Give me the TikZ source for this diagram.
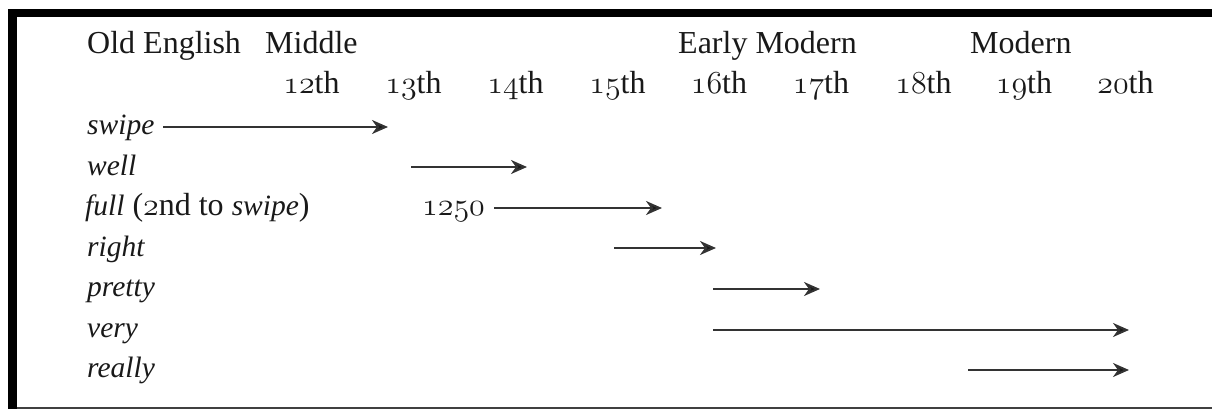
\RequirePackage{fix-cm}
\documentclass[tikz,border=0pt]{standalone}
\usepackage{fontspec}
\setmainfont{Liberation Serif}
\usetikzlibrary{arrows.meta}
\newcommand{\osn}[1]{{\usefont{OML}{cmm}{m}{it}#1}}
\newcommand{\itw}[1]{{\fontsize{29.5}{34}\selectfont\itshape #1}}
\tikzset{
  txt/.style={inner sep=0pt, font=\fontsize{32}{38}\selectfont, text=black!90},
  lbl/.style={txt, anchor=base west},
  cent/.style={txt, anchor=base},
  arr/.style={draw=black!80, line width=2pt, -{Stealth[length=16pt,width=14pt,inset=5pt,fill=black!90]}},
}
\begin{document}
\begin{tikzpicture}[x=1pt,y=-1pt]
\useasboundingbox (0,0) rectangle (1212,409);
% frame
\fill[black] (8,9) rectangle (1212,17);
\fill[black] (8,9) rectangle (17,409);
\fill[black!75] (17,406.6) rectangle (1212,408.6);
% period headings
\node[lbl] (oe) at (87,53.3) {Old English};
\node[lbl] (me) at (265,53.3) {Middle};
\node[lbl] (em) at (678,53.3) {Early Modern};
\node[lbl] (mo) at (970,53.3) {Modern};
% centuries
\node[cent] (c12) at (311.5,93.3) {\osn{12}th};
\node[cent] (c13) at (413.5,93.3) {\osn{13}th};
\node[cent] (c14) at (515.5,93.3) {\osn{14}th};
\node[cent] (c15) at (617.5,93.3) {\osn{15}th};
\node[cent] (c16) at (719,93.3) {\osn{16}th};
\node[cent] (c17) at (821,93.3) {\osn{17}th};
\node[cent] (c18) at (923.5,93.3) {\osn{18}th};
\node[cent] (c19) at (1024,93.3) {\osn{19}th};
\node[cent] (c20) at (1125.5,93.3) {\osn{20}th};
% words
\node[lbl] (swipe) at (87,134.5) {\itw{swipe}};
\node[lbl] (well) at (87,175) {\itw{well}};
\node[lbl] (full) at (85,215.5) {\itw{full} (\osn{2}nd to \itw{swipe})};
\node[lbl] (right) at (87,256) {\itw{right}};
\node[lbl] (pretty) at (87,296.5) {\itw{pretty}};
\node[lbl] (very) at (87,337) {\itw{very}};
\node[lbl] (really) at (87,377.5) {\itw{really}};
\node[lbl] (y1250) at (422,215.5) {\osn{1250}};
% arrow end points
\coordinate (swipeA) at (163,127);  \coordinate (swipeB) at (388,127);
\coordinate (wellA) at (411,167);   \coordinate (wellB) at (527,167);
\coordinate (fullA) at (494,208);   \coordinate (fullB) at (662,208);
\coordinate (rightA) at (614,248);  \coordinate (rightB) at (716,248);
\coordinate (prettyA) at (713,289); \coordinate (prettyB) at (820,289);
\coordinate (veryA) at (713,330);   \coordinate (veryB) at (1129,330);
\coordinate (reallyA) at (968,370); \coordinate (reallyB) at (1129,370);
\draw[arr] (swipeA) -- (swipeB);
\draw[arr] (wellA) -- (wellB);
\draw[arr] (fullA) -- (fullB);
\draw[arr] (rightA) -- (rightB);
\draw[arr] (prettyA) -- (prettyB);
\draw[arr] (veryA) -- (veryB);
\draw[arr] (reallyA) -- (reallyB);
\end{tikzpicture}
\end{document}
